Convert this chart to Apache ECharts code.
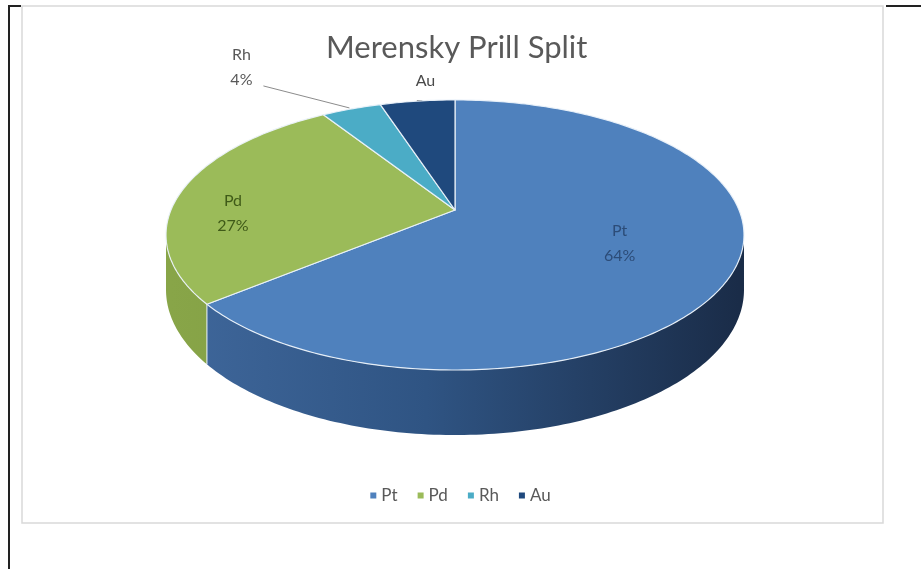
<!DOCTYPE html>
<html><head><meta charset="utf-8">
<script src="https://cdn.jsdelivr.net/npm/echarts@6/dist/echarts.min.js"></script>
<style>html,body{margin:0;padding:0;background:#fff}#c{width:921px;height:569px}</style>
</head><body><div id="c"></div>
<script>
// ---- data ----
const categories = ['Pt', 'Pd', 'Rh', 'Au'];
const values = [64, 27, 4, 5];
const percentLabels = ['64%', '27%', '4%', '5%'];
const titleText = 'Merensky Prill Split';

// ---- styling ----
const topColors = ['#4f81bd', '#9bbb59', '#4bacc6', '#1f497d'];
const sideStops = [
  [[0, '#3f679b'], [0.45, '#2f5483'], [1, '#1a2c48']],
  [[0, '#88a548'], [1, '#6f8b35']],
  [[0, '#3a8da3'], [1, '#2a6f82']],
  [[0, '#1a3c66'], [1, '#142e50']]
];
const labelColors = ['#2c4c78', '#3f5a18', '#595959', '#4a4a4a'];
const labelPlace = [
  { inside: true, f: 0.61, dx: 0, dy: -2, z2: 20 },
  { inside: true, f: 0.81, dx: 0, dy: 19, z2: 20 },
  { inside: false, dx: -110, dy: -42, leader: true, z2: 20 },
  { inside: false, dx: 8, dy: -8, z2: 0 }
];
const G = { cx: 455, cy: 210, A: 284, B: 130.4, k: 0.185, D: 53 };
const FONT = 'Lato, "Open Sans", sans-serif';

function proj(deg, r, drop) {
  const t = deg * Math.PI / 180;
  const u = r * Math.cos(t), v = r * Math.sin(t);
  const s = 1 + G.k * v;
  return [G.cx + G.A * u / s, G.cy - G.B * v / s + (drop || 0) / s];
}
function arc(from, to, drop) {
  const pts = [];
  const n = Math.max(2, Math.ceil(Math.abs(to - from) / 1));
  for (let j = 0; j <= n; j++) pts.push(proj(from + (to - from) * j / n, 1, drop));
  return pts;
}

function buildSlice(i, val) {
  const total = values.reduce((a, b) => a + b, 0);
  let cum = 0;
  for (let j = 0; j < i; j++) cum += values[j];
  const a0 = 90 - 360 * cum / total;
  const a1 = a0 - 360 * val / total;
  const children = [];

  // side wall (front visible arc only)
  const asinK = Math.asin(G.k) * 180 / Math.PI;
  const lo = -180 + asinK, hi = -asinK;
  [-360, 0, 360].forEach(o => {
    const s0 = Math.max(a1, lo + o), s1 = Math.min(a0, hi + o);
    if (s1 > s0) {
      const topPts = arc(s1, s0, 0);
      const botPts = arc(s0, s1, G.D);
      children.push({
        type: 'polygon', z2: 1,
        shape: { points: topPts.concat(botPts) },
        style: {
          fill: {
            type: 'linear', x: G.cx - G.A, y: 0, x2: G.cx + G.A, y2: 0, global: true,
            colorStops: sideStops[i].map(s => ({ offset: s[0], color: s[1] }))
          },
          stroke: null
        }
      });
      if (a0 < hi + o && a0 > lo + o) {
        const p = proj(a0, 1, 0), q = proj(a0, 1, G.D);
        children.push({ type: 'line', z2: 2, shape: { x1: p[0], y1: p[1], x2: q[0], y2: q[1] },
          style: { stroke: 'rgba(230,240,250,0.85)', lineWidth: 1.2 } });
      }
    }
  });

  // top face
  const pts = [[G.cx, G.cy]].concat(arc(a0, a1, 0));
  children.push({
    type: 'polygon', z2: 5,
    shape: { points: pts },
    style: { fill: topColors[i], stroke: 'rgba(235,242,250,0.95)', lineWidth: 1.2, lineJoin: 'round' }
  });

  // label
  const mid = (a0 + a1) / 2;
  const lp = labelPlace[i];
  let lx, ly;
  if (lp.inside) {
    const p = proj(mid, lp.f, 0);
    lx = p[0] + lp.dx; ly = p[1] + lp.dy;
  } else {
    const rim = proj(mid, 1, 0);
    lx = rim[0] + lp.dx; ly = rim[1] + lp.dy;
    if (lp.leader) {
      children.push({ type: 'line', z2: 19,
        shape: { x1: rim[0] - 2, y1: rim[1] - 1, x2: lx + 22, y2: ly + 19 },
        style: { stroke: '#8c8c8c', lineWidth: 1 } });
    }
  }
  children.push({
    type: 'text', x: lx, y: ly, z2: lp.z2,
    style: {
      text: categories[i] + '\n' + percentLabels[i],
      fill: labelColors[i], fontSize: 16, fontFamily: FONT,
      align: 'center', verticalAlign: 'middle', textAlign: 'center', textVerticalAlign: 'middle',
      lineHeight: 25
    }
  });
  return { type: 'group', children };
}

const chart = echarts.init(document.getElementById('c'), null, { renderer: 'canvas' });
chart.setOption({
  animation: false,
  backgroundColor: '#ffffff',
  color: topColors,
  title: {
    text: titleText, left: 321, top: 27,
    textStyle: { fontSize: 31, fontWeight: 'normal', color: '#595959', fontFamily: FONT }
  },
  legend: {
    data: categories, top: 482, left: 'center', icon: 'rect',
    itemWidth: 6, itemHeight: 6, itemGap: 20,
    textStyle: { fontSize: 17, color: '#595959', fontFamily: FONT }
  },
  graphic: [
    { type: 'rect', shape: { x: 22, y: 6, width: 861, height: 517 },
      style: { fill: null, stroke: '#d9d9d9', lineWidth: 1.5 }, silent: true },
    { type: 'line', shape: { x1: 9, y1: 5, x2: 9, y2: 569 }, style: { stroke: '#222', lineWidth: 2 } },
    { type: 'line', shape: { x1: 9, y1: 6, x2: 21, y2: 6 }, style: { stroke: '#222', lineWidth: 2 } },
    { type: 'line', shape: { x1: 886, y1: 6, x2: 921, y2: 6 }, style: { stroke: '#222', lineWidth: 2 } }
  ],
  series: categories.map((name, i) => ({
    type: 'custom', name, coordinateSystem: 'none', silent: true,
    itemStyle: { color: topColors[i] },
    data: [values[i]],
    renderItem: (params, api) => buildSlice(i, api.value(0))
  }))
});
</script></body></html>
